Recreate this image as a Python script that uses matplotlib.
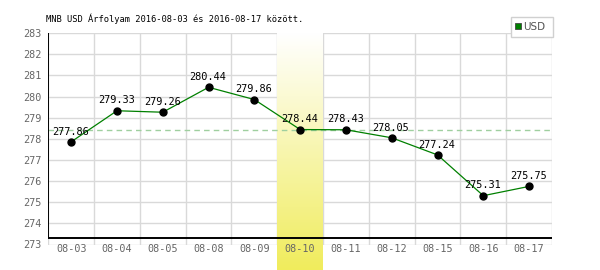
import numpy as np
import matplotlib
matplotlib.use("Agg")
import matplotlib.pyplot as plt
from matplotlib.patches import Rectangle
from matplotlib.colors import LinearSegmentedColormap

dates = ["08-03", "08-04", "08-05", "08-08", "08-09", "08-10",
         "08-11", "08-12", "08-15", "08-16", "08-17"]
values = [277.86, 279.33, 279.26, 280.44, 279.86, 278.44,
          278.43, 278.05, 277.24, 275.31, 275.75]
yticks = list(range(273, 284))
highlight = "08-10"
series_name = "USD"
title = "MNB USD Árfolyam 2016-08-03 és 2016-08-17 között."

W, H = 600, 270
fig = plt.figure(figsize=(W / 100, H / 100), dpi=100)
fig.patch.set_facecolor("white")

def fx(px):
    return px / W

def fy(py):
    return 1 - py / H

ax_left, ax_right, ax_top, ax_bot = 48.3, 552.0, 33.2, 244.5
ax = fig.add_axes([fx(ax_left), fy(ax_bot), fx(ax_right - ax_left), (ax_bot - ax_top) / H])
ax.set_facecolor("none")
n = len(dates)
x = np.arange(n)
ax.set_xlim(-0.5, n - 0.5)
ax.set_ylim(yticks[0], yticks[-1])
for s in ax.spines.values():
    s.set_visible(False)

grid_c = "#d9d9d9"
for yv in yticks:
    ax.axhline(yv, color=grid_c, lw=1, zorder=0.5)
for xv in np.arange(-0.5, n, 1.0):
    ax.axvline(xv, color=grid_c, lw=1, zorder=0.5)

# highlight column gradient (white at top, yellow at bottom)
hi = dates.index(highlight)
px_per_unit = (ax_bot - ax_top) / (yticks[-1] - yticks[0])
y_low = yticks[0] - (H - ax_bot) / px_per_unit
cmap = LinearSegmentedColormap.from_list("hl", ["#ffffff", "#f0ec5c"])
grad = np.linspace(0, 1, 256).reshape(-1, 1)
ax.imshow(grad, cmap=cmap, aspect="auto", origin="upper",
          extent=[hi - 0.5, hi + 0.5, y_low, yticks[-1]],
          zorder=1, clip_on=False, interpolation="bilinear")
ax.set_xlim(-0.5, n - 0.5)
ax.set_ylim(yticks[0], yticks[-1])

# reference dashed line at highlighted value
ax.axhline(values[hi], color="#9fcf9f", lw=1, ls=(0, (4, 3)), zorder=1.5)

# black axes lines
y_axis = yticks[0] + (ax_bot - 238.3) / px_per_unit
ax.plot([-0.5, n - 0.5], [y_axis, y_axis], color="black", lw=1.4, zorder=3, solid_capstyle="butt")
ax.plot([-0.5, -0.5], [y_axis, yticks[-1]], color="black", lw=1.4, zorder=3, solid_capstyle="butt")

ax.plot(x, values, color="#008000", lw=0.9, zorder=4)
ax.plot(x, values, "o", color="black", ms=5.0, zorder=5)

mono = "DejaVu Sans Mono"
for xi, v in zip(x, values):
    ax.annotate(f"{v:.2f}", (xi, v), xytext=(-0.5, 7.4), textcoords="offset points",
                ha="center", va="center", fontsize=7.4, family=mono, color="black", zorder=6)

ax.set_xticks(x)
ax.set_xticklabels(dates)
ax.set_yticks(yticks)
ax.set_yticklabels([str(t) for t in yticks])
ax.tick_params(axis="both", length=0, labelsize=7.3, labelcolor="#666666")
ax.tick_params(axis="x", pad=-0.5)
ax.tick_params(axis="y", pad=4.5)
for lbl in ax.get_xticklabels() + ax.get_yticklabels():
    lbl.set_family(mono)

fig.text(fx(46), fy(19), title, ha="left", va="center", fontsize=6.3, family=mono, color="black")

# legend box
leg = Rectangle((fx(511), fy(36.7)), fx(552.7 - 511), (36.7 - 16.7) / H,
                transform=fig.transFigure, facecolor="white", edgecolor="#d0d0d0", lw=1, zorder=10)
fig.add_artist(leg)
sq = Rectangle((fx(515.3), fy(29.3)), fx(6), 6 / H, transform=fig.transFigure,
               facecolor="#008000", edgecolor="#444444", lw=0.6, zorder=11)
fig.add_artist(sq)
fig.text(fx(523), fy(26.5), series_name, ha="left", va="center", fontsize=7.5,
         family="DejaVu Sans", color="#555555", zorder=12)

fig.savefig("out.png", dpi=100)
